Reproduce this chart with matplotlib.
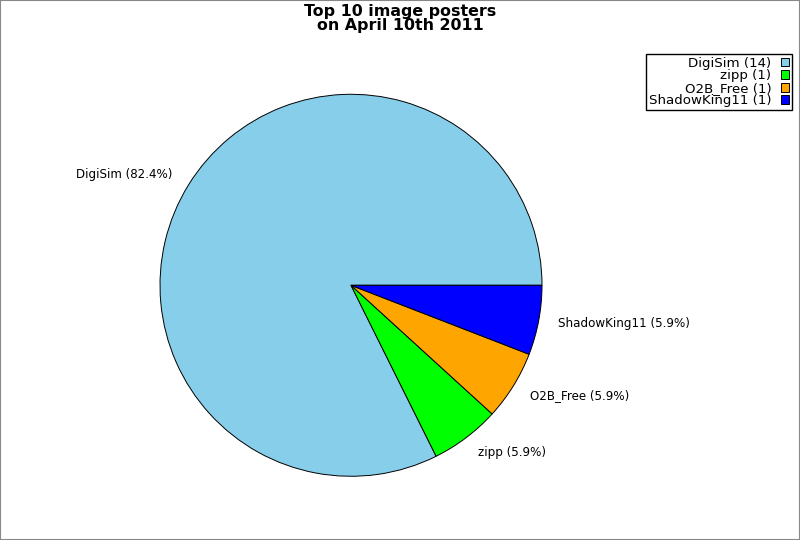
import matplotlib.pyplot as plt
from matplotlib.patches import Rectangle

names = ['DigiSim', 'zipp', 'O2B_Free', 'ShadowKing11']
counts = [14, 1, 1, 1]
colors = ['#87CEEB', '#00FF00', '#FFA500', '#0000FF']

total = sum(counts)
pie_labels = ['%s (%.1f%%)' % (n, 100.0 * c / total) for n, c in zip(names, counts)]
legend_labels = ['%s (%d)' % (n, c) for n, c in zip(names, counts)]

fig = plt.figure(figsize=(8, 5.4), dpi=100)
ax = fig.add_axes([0.200, 0.118, 0.4775, 0.7074])

wedges, texts = ax.pie(counts, labels=pie_labels, colors=colors, startangle=0,
                       counterclock=True, labeldistance=1.1,
                       wedgeprops=dict(edgecolor='black', linewidth=0.7),
                       textprops=dict(fontsize=8.6))
ax.set_xlim(-1, 1)
ax.set_ylim(-1, 1)
ax.set_aspect('equal')

fig.suptitle('Top 10 image posters\non April 10th 2011', fontsize=11.4,
             fontweight='bold', y=0.993, linespacing=0.95)

leg = fig.legend(wedges, legend_labels, loc='upper right',
                 bbox_to_anchor=(0.99, 0.9), borderaxespad=0, markerfirst=False,
                 fontsize=9.6, handlelength=0.65, handleheight=0.65,
                 handletextpad=0.7, labelspacing=-0.03, borderpad=0.2,
                 fancybox=False, framealpha=1, edgecolor='black')
for t in leg.get_texts():
    t.set_ha('right')
leg._legend_box.align = 'right'

# grey border round the image
fig.patches.append(Rectangle((0, 0), 1, 1, transform=fig.transFigure,
                             fill=False, edgecolor='#888888', linewidth=1.5))

fig.savefig('out.png', dpi=100)
